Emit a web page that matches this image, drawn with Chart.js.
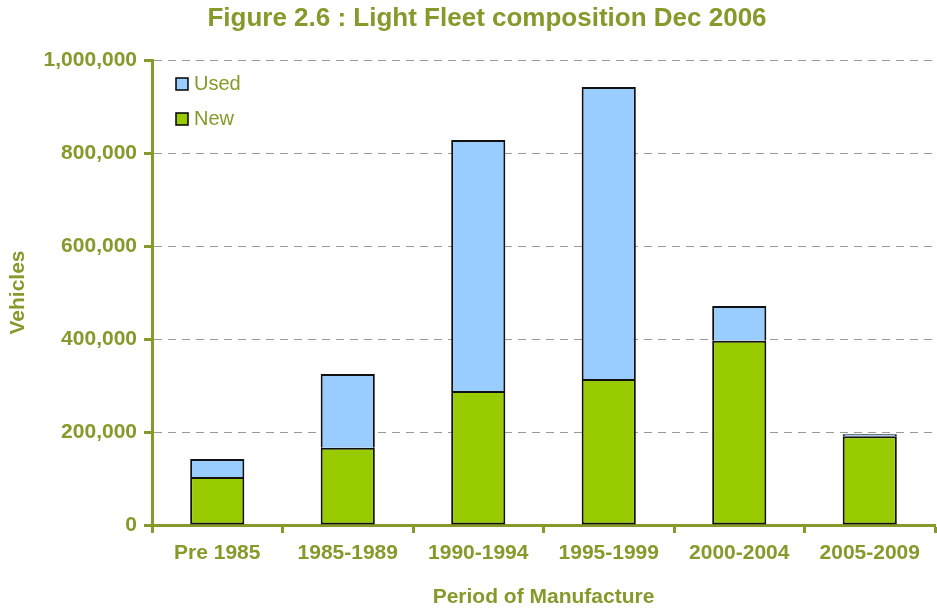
<!DOCTYPE html>
<html>
<head>
<title>Light Fleet composition</title>
<script src="https://cdn.jsdelivr.net/npm/chart.js"></script>
<style>
  body { margin: 0; background: #ffffff; }
  #wrap { width: 937px; height: 610px; }
</style>
</head>
<body>
<div id="wrap"><canvas id="fleetChart"></canvas></div>
<script>
// data
const periods = ['Pre 1985', '1985-1989', '1990-1994', '1995-1999', '2000-2004', '2005-2009'];
const newVehicles = [103000, 166000, 288000, 314000, 396000, 191000];
const usedVehicles = [39000, 159000, 540000, 628000, 75000, 4000];
const yTicks = [0, 200000, 400000, 600000, 800000, 1000000];
const chartTitle = 'Figure 2.6 : Light Fleet composition Dec 2006';

const olive = '#86992A';
const fam = '"Liberation Sans", Arial, sans-serif';

// title sits a bit right of the page centre in the original, so draw it by hand
const figTitle = {
  id: 'figTitle',
  afterDraw(chart) {
    const ctx = chart.ctx;
    ctx.save();
    ctx.font = 'bold 26px ' + fam;
    ctx.fillStyle = olive;
    ctx.textAlign = 'center';
    ctx.textBaseline = 'middle';
    ctx.fillText(chartTitle, 487, 19);
    ctx.restore();
  }
};

// legend drawn inside the plot, top left (Used above New)
const innerLegend = {
  id: 'innerLegend',
  afterDraw(chart) {
    const ctx = chart.ctx;
    const a = chart.chartArea;
    const items = chart.data.datasets.slice().reverse();
    ctx.save();
    ctx.font = '20px ' + fam;
    ctx.textBaseline = 'middle';
    items.forEach(function (ds, i) {
      const x = a.left + 24;
      const y = a.top + 24 + i * 35;
      ctx.fillStyle = ds.backgroundColor;
      ctx.fillRect(x, y - 6, 12, 12);
      ctx.lineWidth = 1.5;
      ctx.strokeStyle = '#000';
      ctx.strokeRect(x, y - 6, 12, 12);
      ctx.fillStyle = olive;
      ctx.fillText(ds.label, x + 18, y);
    });
    ctx.restore();
  }
};

new Chart(document.getElementById('fleetChart'), {
  type: 'bar',
  data: {
    labels: periods,
    datasets: [
      { label: 'New', data: newVehicles, backgroundColor: '#99CC00', borderColor: '#111', borderWidth: 2, borderSkipped: false, barPercentage: 0.415, categoryPercentage: 1 },
      { label: 'Used', data: usedVehicles, backgroundColor: '#99CCFF', borderColor: '#111', borderWidth: 2, borderSkipped: 'bottom', barPercentage: 0.415, categoryPercentage: 1 }
    ]
  },
  options: {
    responsive: true,
    maintainAspectRatio: false,
    animation: false,
    layout: { padding: { left: 0, right: 2, top: 60, bottom: 0 } },
    plugins: {
      legend: { display: false },
      tooltip: { enabled: false },
      title: { display: false }
    },
    scales: {
      x: {
        stacked: true,
        border: { color: olive, width: 3 },
        grid: { drawOnChartArea: false, drawTicks: true, tickLength: 8, tickColor: olive, tickWidth: 3, offset: true },
        ticks: {
          color: olive,
          padding: 8,
          font: { family: fam, size: 21, weight: 'bold' }
        },
        title: {
          display: true,
          text: 'Period of Manufacture',
          color: olive,
          padding: { top: 6, bottom: 0 },
          font: { family: fam, size: 21, weight: 'bold' }
        },
        afterFit(scale) { scale.height = 85; }
      },
      y: {
        stacked: true,
        min: 0,
        max: 1000000,
        afterBuildTicks(scale) { scale.ticks = yTicks.map(v => ({ value: v })); },
        border: { color: olive, width: 3, dash: [8, 6] },
        grid: {
          color: '#9a9a9a',
          lineWidth: 1,
          drawTicks: true,
          tickLength: 8,
          tickColor: olive,
          tickWidth: 3,
          tickBorderDash: []
        },
        ticks: {
          color: olive,
          padding: 7,
          font: { family: fam, size: 21, weight: 'bold' },
          callback: v => v.toLocaleString('en-US')
        },
        title: {
          display: true,
          text: 'Vehicles',
          color: olive,
          padding: { top: 6, bottom: 8 },
          font: { family: fam, size: 21, weight: 'bold' }
        },
        afterFit(scale) { scale.width = 152; }
      }
    }
  },
  plugins: [innerLegend, figTitle]
});
</script>
</body>
</html>
